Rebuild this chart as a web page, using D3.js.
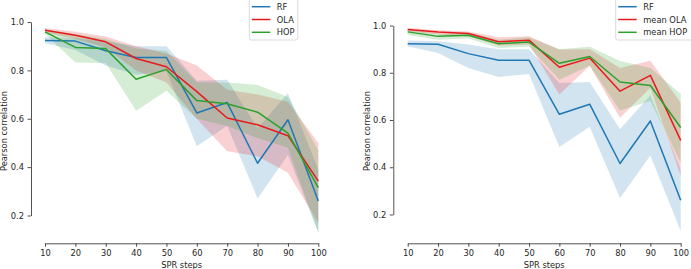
<!DOCTYPE html>
<html>
<head>
<meta charset="utf-8">
<script src="https://cdn.jsdelivr.net/npm/d3@7"></script>
<style>
    body { margin: 0; background: #fff; }
    text { font-family: "DejaVu Sans", sans-serif; fill: #262626; }
</style>
</head>
<body>
<div id="chart"></div>
<script>
//x categories
var steps = [10, 20, 30, 40, 50, 60, 70, 80, 90, 100];
var yTicks = [0.2, 0.4, 0.6, 0.8, 1.0];

//RF (same in both panels)
var rfMean = [0.923, 0.921, 0.881, 0.853, 0.853, 0.624, 0.667, 0.416, 0.596, 0.26];
var rfLow = [0.912, 0.884, 0.82, 0.782, 0.795, 0.486, 0.571, 0.27, 0.45, 0.13];
var rfHigh = [0.937, 0.933, 0.92, 0.9, 0.9, 0.757, 0.761, 0.561, 0.705, 0.39];

//left panel
var olaMean = [0.966, 0.945, 0.918, 0.849, 0.815, 0.712, 0.603, 0.575, 0.53, 0.342];
var olaLow = [0.955, 0.93, 0.895, 0.8, 0.75, 0.6, 0.466, 0.445, 0.377, 0.17];
var olaHigh = [0.975, 0.96, 0.94, 0.9, 0.87, 0.82, 0.72, 0.7, 0.67, 0.5];
var hopMean = [0.959, 0.895, 0.89, 0.763, 0.804, 0.675, 0.662, 0.627, 0.541, 0.315];
var hopLow = [0.95, 0.833, 0.83, 0.633, 0.716, 0.6, 0.57, 0.52, 0.48, 0.13];
var hopHigh = [0.97, 0.95, 0.93, 0.89, 0.88, 0.75, 0.75, 0.74, 0.69, 0.47];

//right panel
var meanOlaMean = [0.983, 0.972, 0.966, 0.931, 0.938, 0.823, 0.862, 0.722, 0.789, 0.514];
var meanOlaLow = [0.975, 0.962, 0.955, 0.915, 0.92, 0.708, 0.83, 0.61, 0.736, 0.364];
var meanOlaHigh = [0.99, 0.98, 0.975, 0.95, 0.955, 0.898, 0.9, 0.82, 0.851, 0.673];
var meanHopMean = [0.973, 0.954, 0.959, 0.923, 0.93, 0.84, 0.869, 0.761, 0.746, 0.568];
var meanHopLow = [0.96, 0.94, 0.945, 0.905, 0.91, 0.77, 0.83, 0.64, 0.68, 0.42];
var meanHopHigh = [0.985, 0.965, 0.97, 0.94, 0.95, 0.9, 0.91, 0.85, 0.82, 0.71];

var colors = { blue: "#1f77b4", red: "#e8191c", green: "#2ca02c" };

var svg = d3.select("#chart")
    .append("svg")
    .attr("width", 691)
    .attr("height", 269);

var drawPanel = function (cfg) {
    var x = d3.scaleLinear().domain([10, 100]).range([cfg.x0, cfg.x1]);
    var y = d3.scaleLinear().domain([0.2, 1.0]).range([cfg.yBottom, cfg.yTop]);
    var g = svg.append("g");

    var area = d3.area()
        .x(function (d) { return x(d.s); })
        .y0(function (d) { return y(d.lo); })
        .y1(function (d) { return y(d.hi); });
    var line = d3.line()
        .x(function (d) { return x(d.s); })
        .y(function (d) { return y(d.m); });

    var rows = function (s) {
        return steps.map(function (v, i) {
            return { s: v, m: s.mean[i], lo: s.low[i], hi: s.high[i] };
        });
    };

    //bands below all lines
    cfg.series.forEach(function (s) {
        g.append("path")
            .attr("d", area(rows(s)))
            .attr("fill", s.color)
            .attr("fill-opacity", 0.2)
            .attr("stroke", "none");
    });
    cfg.series.forEach(function (s) {
        g.append("path")
            .attr("d", line(rows(s)))
            .attr("fill", "none")
            .attr("stroke", s.color)
            .attr("stroke-width", 1.5)
            .attr("stroke-linejoin", "round");
    });

    //offset, trimmed axes
    var xAxis = g.append("g")
        .attr("transform", "translate(0," + cfg.xSpine + ")")
        .call(d3.axisBottom(x).tickValues(steps).tickSize(3.5).tickPadding(3.5).tickSizeOuter(0));
    var yAxis = g.append("g")
        .attr("transform", "translate(" + cfg.ySpine + ",0)")
        .call(d3.axisLeft(y).tickValues(yTicks).tickFormat(d3.format(".1f")).tickSize(3.5).tickPadding(3.5).tickSizeOuter(0));
    [xAxis, yAxis].forEach(function (a) {
        a.selectAll("text").style("font-size", "8.3px").style("font-family", "DejaVu Sans").attr("fill", "#262626");
        a.selectAll("line").attr("stroke", "#262626").attr("stroke-width", 0.8);
        a.select(".domain").attr("stroke", "#262626").attr("stroke-width", 0.8);
    });

    g.append("text")
        .attr("x", (cfg.x0 + cfg.x1) / 2)
        .attr("y", 268)
        .attr("text-anchor", "middle")
        .style("font-size", "8.3px")
        .text("SPR steps");
    g.append("text")
        .attr("transform", "translate(" + cfg.yLabelX + ",131)rotate(-90)")
        .attr("text-anchor", "middle")
        .style("font-size", "8.3px")
        .text("Pearson correlation");

    //legend
    var lg = g.append("g").attr("transform", "translate(" + cfg.legendX + ",0)");
    lg.append("rect")
        .attr("x", 0).attr("y", -3)
        .attr("width", cfg.legendW).attr("height", 43)
        .attr("rx", 2)
        .attr("fill", "#fff").attr("fill-opacity", 0.8)
        .attr("stroke", "#d0d0d0").attr("stroke-width", 0.8);
    cfg.series.forEach(function (s, i) {
        var ly = 6.7 + i * 12.8;
        lg.append("line")
            .attr("x1", 2.5).attr("x2", 21)
            .attr("y1", ly).attr("y2", ly)
            .attr("stroke", s.color).attr("stroke-width", 1.5);
        lg.append("text")
            .attr("x", 27.5).attr("y", ly + 3)
            .style("font-size", "8.3px")
            .text(s.name);
    });
};

drawPanel({
    x0: 45, x1: 318.3, yTop: 22, yBottom: 215.5, xSpine: 243.3, ySpine: 31,
    yLabelX: 7.3, legendX: 249.3, legendW: 48.5,
    series: [
        { name: "RF", color: colors.blue, mean: rfMean, low: rfLow, high: rfHigh },
        { name: "OLA", color: colors.red, mean: olaMean, low: olaLow, high: olaHigh },
        { name: "HOP", color: colors.green, mean: hopMean, low: hopLow, high: hopHigh }
    ]
});

drawPanel({
    x0: 407.7, x1: 680.7, yTop: 25.5, yBottom: 214.5, xSpine: 243.3, ySpine: 393.3,
    yLabelX: 369.5, legendX: 615.7, legendW: 80,
    series: [
        { name: "RF", color: colors.blue, mean: rfMean, low: rfLow, high: rfHigh },
        { name: "mean OLA", color: colors.red, mean: meanOlaMean, low: meanOlaLow, high: meanOlaHigh },
        { name: "mean HOP", color: colors.green, mean: meanHopMean, low: meanHopLow, high: meanHopHigh }
    ]
});
</script>
</body>
</html>
